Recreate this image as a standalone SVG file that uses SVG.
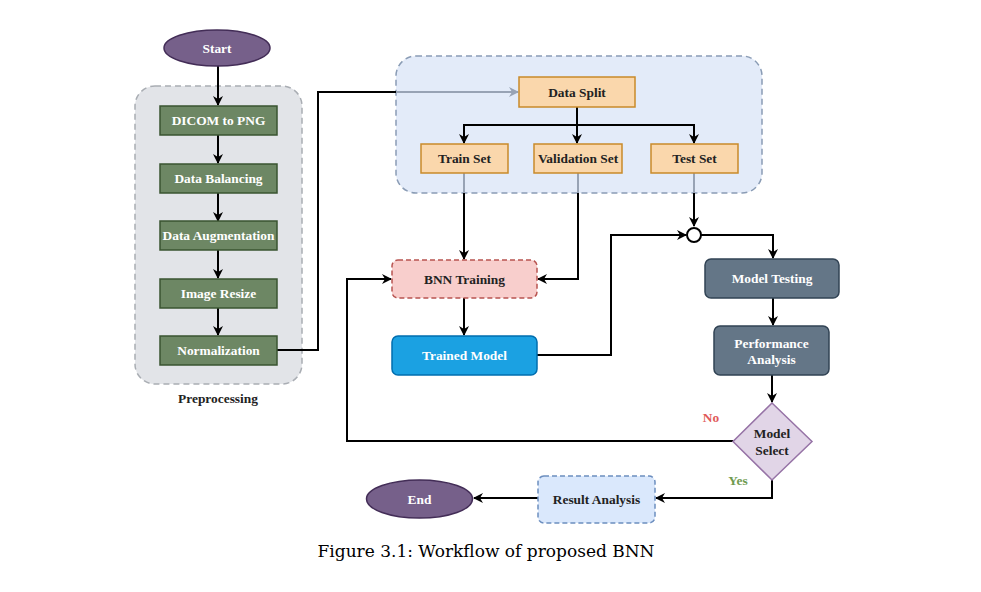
<svg xmlns="http://www.w3.org/2000/svg" width="981" height="592" viewBox="0 0 981 592">
<style>
text{font-family:"Liberation Serif","Times New Roman",serif;font-size:13.4px;font-weight:bold;text-anchor:middle;dominant-baseline:central}
.w{fill:#ffffff}
.k{fill:#222222}
.green rect{fill:#6d8764;stroke:#3a5431;stroke-width:1.5}
.orange rect{fill:#fad7ac;stroke:#c98a2a;stroke-width:1.5}
.slate rect{fill:#647687;stroke:#314354;stroke-width:1.5}
.c{fill:none;stroke:#000;stroke-width:2}
.g{fill:none;stroke:#98a3b5;stroke-width:2}
</style>
<defs>
<marker id="a" viewBox="0 0 10 10" refX="9" refY="5" markerWidth="10" markerHeight="10" orient="auto" markerUnits="userSpaceOnUse">
<path d="M0,0 L10,5 L0,10 L3,5 z" fill="#000"/>
</marker>
<marker id="ag" viewBox="0 0 10 10" refX="9" refY="5" markerWidth="10" markerHeight="10" orient="auto" markerUnits="userSpaceOnUse">
<path d="M0,0 L10,5 L0,10 L3,5 z" fill="#98a3b5"/>
</marker>
</defs>
<rect width="981" height="592" fill="#ffffff"/>

<g id="preprocessing-group">
<rect x="135" y="86" width="167" height="298" rx="20" fill="#e2e4e8" stroke="#a9adb3" stroke-width="1.5" stroke-dasharray="6 4"/>
<text x="218" y="398" class="k" style="font-weight:600">Preprocessing</text>
</g>
<g id="split-group">
<rect x="396" y="56" width="366" height="137" rx="20" fill="#e3ebf9" stroke="#8a9cb5" stroke-width="1.5" stroke-dasharray="6 4"/>
</g>

<g id="connectors">
<path class="c" d="M218,66 V105" marker-end="url(#a)"/>
<path class="c" d="M218,135 V163" marker-end="url(#a)"/>
<path class="c" d="M218,193 V221" marker-end="url(#a)"/>
<path class="c" d="M218,250 V278" marker-end="url(#a)"/>
<path class="c" d="M218,308 V335" marker-end="url(#a)"/>
<path class="c" d="M277,350 H318 V92 H396"/>
<path class="g" d="M396,92 H518" marker-end="url(#ag)"/>
<path class="c" d="M577,107 V143" marker-end="url(#a)"/>
<path class="c" d="M464,143 V125 H694 V143" marker-end="url(#a)"/>
<path class="c" d="M464,125 V143" marker-end="url(#a)"/>
<path class="g" d="M464,173 V193"/>
<path class="c" d="M464,193 V259" marker-end="url(#a)"/>
<path class="g" d="M578,173 V193"/>
<path class="c" d="M578,193 V279 H538" marker-end="url(#a)"/>
<path class="g" d="M694,173 V193"/>
<path class="c" d="M694,193 V226" marker-end="url(#a)"/>
<path class="c" d="M464,298 V335" marker-end="url(#a)"/>
<path class="c" d="M537,355 H611 V235 H686" marker-end="url(#a)"/>
<path class="c" d="M701,235 H773 V258" marker-end="url(#a)"/>
<path class="c" d="M773,298 V325" marker-end="url(#a)"/>
<path class="c" d="M772,375 V402" marker-end="url(#a)"/>
<path class="c" d="M733,441 H347 V279 H391" marker-end="url(#a)"/>
<path class="c" d="M772,480 V498 H656" marker-end="url(#a)"/>
<path class="c" d="M538,498 H474" marker-end="url(#a)"/>
</g>

<g id="start">
<ellipse cx="217" cy="48" rx="53" ry="18" fill="#76608a" stroke="#432d57" stroke-width="1.5"/>
<text x="217" y="48" class="w">Start</text>
</g>
<g id="dicom" class="green"><rect x="160" y="106" width="117" height="29"/><text x="218.5" y="120.5" class="w">DICOM to PNG</text></g>
<g id="balancing" class="green"><rect x="160" y="164" width="117" height="29"/><text x="218.5" y="178.5" class="w">Data Balancing</text></g>
<g id="augmentation" class="green"><rect x="160" y="221" width="117" height="29"/><text x="218.5" y="235.5" class="w">Data Augmentation</text></g>
<g id="resize" class="green"><rect x="160" y="279" width="117" height="29"/><text x="218.5" y="293.5" class="w">Image Resize</text></g>
<g id="normalization" class="green"><rect x="160" y="336" width="117" height="29"/><text x="218.5" y="350.5" class="w">Normalization</text></g>

<g id="datasplit" class="orange"><rect x="519" y="77" width="116" height="30"/><text x="577" y="92" class="k">Data Split</text></g>
<g id="trainset" class="orange"><rect x="421" y="144" width="87" height="29"/><text x="464.5" y="158.5" class="k">Train Set</text></g>
<g id="valset" class="orange"><rect x="534" y="144" width="88" height="29"/><text x="578" y="158.5" class="k">Validation Set</text></g>
<g id="testset" class="orange"><rect x="651" y="144" width="87" height="29"/><text x="694.5" y="158.5" class="k">Test Set</text></g>

<g id="bnn-training">
<rect x="392" y="260" width="145" height="38" rx="6" fill="#f8cecc" stroke="#b85450" stroke-width="1.5" stroke-dasharray="5 3"/>
<text x="464.5" y="279" class="k">BNN Training</text>
</g>
<g id="trained-model">
<rect x="392" y="336" width="145" height="39" rx="6" fill="#1ba1e2" stroke="#006eaf" stroke-width="1.5"/>
<text x="464.5" y="355.5" class="w">Trained Model</text>
</g>
<g id="junction">
<circle cx="694" cy="235" r="7" fill="#ffffff" stroke="#000" stroke-width="2"/>
</g>
<g id="model-testing" class="slate">
<rect x="705" y="259" width="134" height="39" rx="6"/>
<text x="772" y="278.5" class="w">Model Testing</text>
</g>
<g id="performance" class="slate">
<rect x="714" y="326" width="115" height="49" rx="6"/>
<text x="771.5" y="343" class="w">Performance</text>
<text x="771.5" y="359" class="w">Analysis</text>
</g>
<g id="model-select">
<path d="M772,403 L812,441.5 L772,480 L733,441.5 Z" fill="#e1d5e7" stroke="#9673a6" stroke-width="1.5"/>
<text x="772" y="433" class="k">Model</text>
<text x="772" y="450" class="k">Select</text>
</g>
<text x="711" y="417" style="fill:#e05a5a">No</text>
<text x="738" y="480" style="fill:#6f9a4f">Yes</text>
<g id="result-analysis">
<rect x="538" y="476" width="117" height="47" rx="6" fill="#dae8fc" stroke="#6c8ebf" stroke-width="1.5" stroke-dasharray="5 3"/>
<text x="596.5" y="499.5" class="k">Result Analysis</text>
</g>
<g id="end">
<ellipse cx="419.5" cy="499" rx="53" ry="19" fill="#76608a" stroke="#432d57" stroke-width="1.5"/>
<text x="419.5" y="499" class="w">End</text>
</g>

<text x="486" y="557" style="font-family:'DejaVu Serif',serif;font-size:17px;font-weight:normal;fill:#000;dominant-baseline:alphabetic">Figure 3.1: Workflow of proposed BNN</text>
</svg>
